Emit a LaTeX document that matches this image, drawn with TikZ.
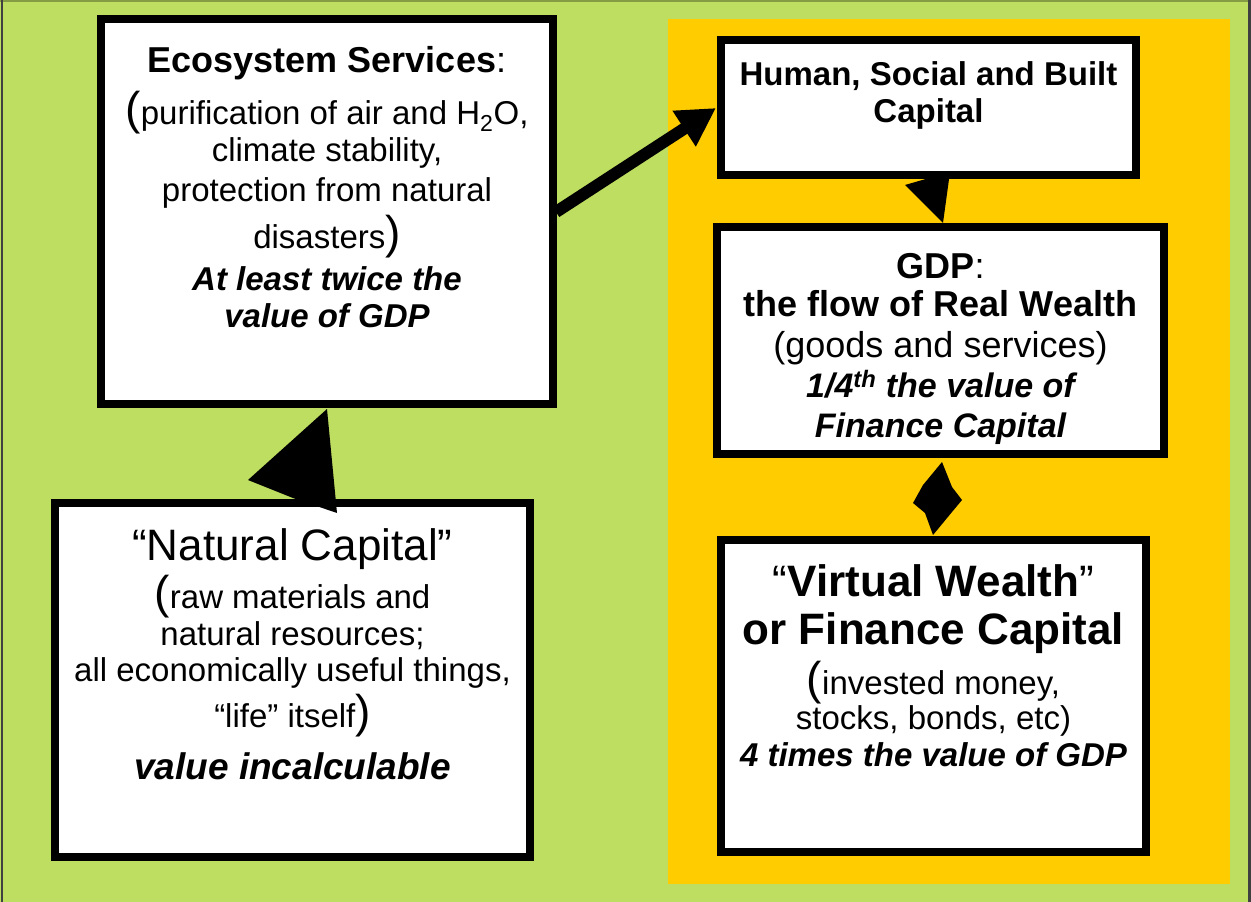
\documentclass[tikz,border=0pt]{standalone}
\usepackage{fontspec}
\setmainfont{Liberation Sans}
\usetikzlibrary{arrows.meta}
\definecolor{bggreen}{RGB}{190,222,97}
\definecolor{panelorange}{RGB}{255,204,0}
\newcommand{\bigpar}[1]{{\fontsize{46}{46}\selectfont #1}}
\begin{document}
\begin{tikzpicture}[x=1pt,y=-1pt,
  box/.style={draw=black, fill=white, line width=8pt, rectangle, inner sep=0pt, outer sep=0pt},
  txt/.style={anchor=base, inner sep=0pt, outer sep=0pt},
  body/.style={txt, font=\fontsize{33}{33}\selectfont},
  bodyb/.style={txt, font=\fontsize{33}{33}\selectfont\bfseries},
  bodybi/.style={txt, font=\fontsize{33}{33}\selectfont\bfseries\itshape},
  headmid/.style={txt, font=\fontsize{36}{36}\selectfont\bfseries},
  headbig/.style={txt, font=\fontsize{44}{44}\selectfont\bfseries},
  arrowhead/.style={fill=black, draw=none}]
\useasboundingbox (0,0) rectangle (1251,902);
% background
\fill[bggreen] (0,0) rectangle (1251,902);
\draw[bggreen!70!black, line width=1.5pt] (0,0.75) -- (1251,0.75);
\draw[black!75, line width=2.5pt] (1.8,0) -- (1.8,902);
\draw[black!75, line width=2.5pt] (1249.5,0) -- (1249.5,902);
% orange panel
\fill[panelorange] (668,19) rectangle (1230,884);

% boxes
\node[box, minimum width=452pt, minimum height=385pt] (eco) at (327,211.5) {};
\node[box, minimum width=475pt, minimum height=354pt] (nat) at (292.5,680) {};
\node[box, minimum width=415pt, minimum height=135pt] (hum) at (928.5,107.5) {};
\node[box, minimum width=447pt, minimum height=227pt] (gdp) at (940.5,340.5) {};
\node[box, minimum width=425pt, minimum height=312pt] (vir) at (933.5,696) {};

% Ecosystem services text
\node[txt, font=\fontsize{36}{36}\selectfont] (e1) at (327,72) {\textbf{Ecosystem Services}:};
\node[body] (e2) at (327,124) {\bigpar{(}purification of air and H\textsubscript{2}O,};
\node[body] (e3) at (327,161) {climate stability,};
\node[body] (e4) at (327,201) {protection from natural};
\node[body] (e5) at (327,248) {disasters\bigpar{)}};
\node[bodybi] (e6) at (327,290) {At least twice the};
\node[bodybi] (e7) at (327,327) {value of GDP};

% Natural capital text
\node[txt, font=\fontsize{44}{44}\selectfont] (n1) at (292.5,560) {“Natural Capital”};
\node[body] (n2) at (292.5,608) {\bigpar{(}raw materials and};
\node[body] (n3) at (292.5,645) {natural resources;};
\node[body] (n4) at (292.5,681) {all economically useful things,};
\node[body] (n5) at (292.5,727) {“life” itself\bigpar{)}};
\node[txt, font=\fontsize{37}{37}\selectfont\bfseries\itshape] (n6) at (292.5,779) {value incalculable};

% Human capital text
\node[bodyb] (h1) at (928.5,85) {Human, Social and Built};
\node[bodyb] (h2) at (928.5,122) {Capital};

% GDP text
\node[txt, font=\fontsize{36}{36}\selectfont] (g1) at (940.5,278) {\textbf{GDP}:};
\node[headmid] (g2) at (940.5,316) {the flow of Real Wealth};
\node[txt, font=\fontsize{36}{36}\selectfont] (g3) at (940.5,357) {(goods and services)};
\node[txt, font=\fontsize{34}{34}\selectfont\bfseries\itshape] (g4) at (940.5,397) {1/4\textsuperscript{th} the value of};
\node[txt, font=\fontsize{34}{34}\selectfont\bfseries\itshape] (g5) at (940.5,437) {Finance Capital};

% Virtual wealth text
\node[txt, font=\fontsize{44}{44}\selectfont] (v1) at (933.5,596) {“\textbf{Virtual Wealth}”};
\node[headbig] (v2) at (933.5,644) {or Finance Capital};
\node[body] (v3) at (933.5,694) {\bigpar{(}invested money,};
\node[body] (v4) at (933.5,729) {stocks, bonds, etc)};
\node[bodybi] (v5) at (933.5,766) {4 times the value of GDP};

% connectors
\coordinate (a1s) at (556,212);
\coordinate (a1e) at (716,108);
\draw[line width=12pt, -{Triangle[length=38pt,width=40pt]}] (a1s) -- (a1e);

% arrowhead between ecosystem and natural capital
\fill[black] (327,409) -- (248,480) -- (293,498) -- (337,513) -- cycle;
% arrowhead between human capital and GDP
\fill[black] (905,185) -- (950,172) -- (943,223) -- cycle;
% double arrowhead between GDP and virtual wealth
\fill[black] (942,462) -- (952,487) -- (962,500) -- (952,512) -- (933,535) -- (925,513) -- (913,503) -- (923,485) -- cycle;
\end{tikzpicture}
\end{document}
